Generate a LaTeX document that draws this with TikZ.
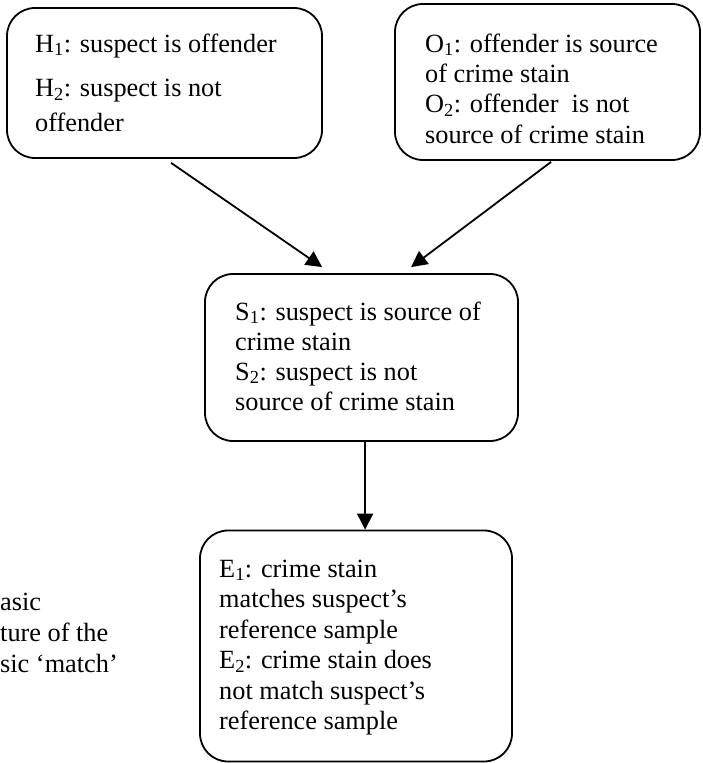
\documentclass[tikz,border=0pt]{standalone}
\usepackage{fontspec}
\setmainfont{Liberation Serif}
\usetikzlibrary{arrows.meta}
\newcommand\boxlines[2]{\vtop{\baselineskip=#1\lineskiplimit=-20pt\lineskip=0pt #2}}
\newcommand\rowline[1]{\hbox{#1}}
\newcommand\sbs[1]{\textsubscript{#1}}
\begin{document}
\begin{tikzpicture}[x=1pt,y=-1pt,
  box/.style={draw, line width=1.8pt, rounded corners=28pt, inner sep=0pt},
  txt/.style={anchor=base west, inner sep=0pt, font=\fontsize{26.3}{30.5}\selectfont},
  arr/.style={line width=1.8pt, -{Triangle[length=16pt,width=16pt]}}]
\useasboundingbox (0,0) rectangle (703,763);
\fill[white] (0,0) rectangle (703,763);
% boxes
\node[box, minimum width=315pt, minimum height=150pt] (H) at (164.5,83) {};
\node[box, minimum width=305pt, minimum height=156pt] (O) at (547.5,82) {};
\node[box, minimum width=313pt, minimum height=167pt] (S) at (361.5,357.5) {};
\node[box, minimum width=312pt, minimum height=231pt] (E) at (356,646) {};
% texts
\node[txt] (Ht) at (35,52) {\boxlines{30.5pt}{\rowline{H\sbs{1}: suspect is offender}\vskip14pt\rowline{H\sbs{2}: suspect is not}\vskip4pt\rowline{offender}}};
\node[txt] (Ot) at (425,52) {\boxlines{30.4pt}{\rowline{O\sbs{1}: offender is source}\rowline{of crime stain}\rowline{O\sbs{2}: offender\ \ is not}\rowline{source of crime stain}}};
\node[txt] (St) at (235,320) {\boxlines{30pt}{\rowline{S\sbs{1}: suspect is source of}\rowline{crime stain}\rowline{S\sbs{2}: suspect is not}\rowline{source of crime stain}}};
\node[txt] (Et) at (219,577) {\boxlines{30.5pt}{\rowline{E\sbs{1}: crime stain}\rowline{matches suspect’s}\rowline{reference sample}\rowline{E\sbs{2}: crime stain does}\rowline{not match suspect’s}\rowline{reference sample}}};
\node[txt] (Lt) at (0,610) {\boxlines{31pt}{\rowline{asic}\rowline{ture of the}\rowline{sic ‘match’}}};
% connectors
\draw[arr] ([xshift=165pt,yshift=-4pt]H.south west) -- ([xshift=118pt,yshift=6pt]S.north west);
\draw[arr] ([xshift=157pt,yshift=-1pt]O.south west) -- ([xshift=207pt,yshift=6pt]S.north west);
\draw[arr] ([xshift=161pt]S.south west) -- ([xshift=166pt]E.north west);
\end{tikzpicture}
\end{document}
